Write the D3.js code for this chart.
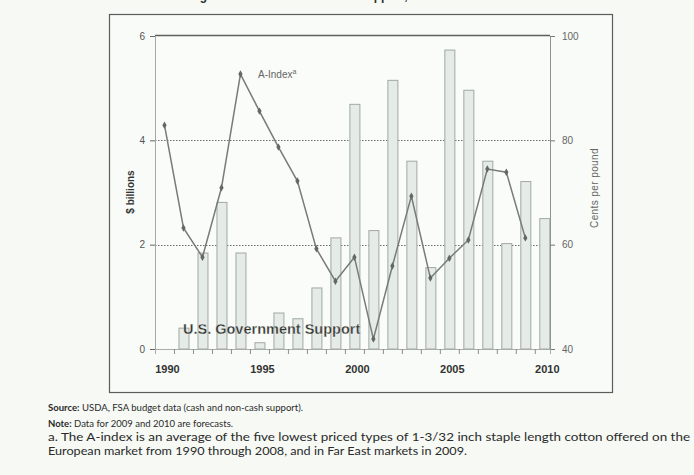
<!DOCTYPE html>
<html>
<head>
<meta charset="utf-8">
<script src="https://cdn.jsdelivr.net/npm/d3@7"></script>
<style>
  html, body { margin: 0; padding: 0; background: #f6f9f4; }
  svg { display: block; }
</style>
</head>
<body>
<div id="chart"></div>
<script>
// Cotton program outlays ($ billions) and the A-Index price (cents per pound)
const supportYears = [1991, 1992, 1993, 1994, 1995, 1996, 1997, 1998, 1999, 2000,
                      2001, 2002, 2003, 2004, 2005, 2006, 2007, 2008, 2009, 2010];
const supportValues = [0.40, 1.84, 2.81, 1.84, 0.12, 0.69, 0.58, 1.17, 2.13, 4.69,
                       2.27, 5.15, 3.60, 1.56, 5.73, 4.96, 3.60, 2.02, 3.21, 2.50];
const indexYears = [1990, 1991, 1992, 1993, 1994, 1995, 1996, 1997, 1998, 1999,
                    2000, 2001, 2002, 2003, 2004, 2005, 2006, 2007, 2008, 2009];
const indexValues = [82.9, 63.2, 57.6, 70.9, 92.7, 85.6, 78.7, 72.2, 59.2, 53.0,
                     57.6, 41.9, 55.9, 69.3, 53.6, 57.4, 60.9, 74.5, 73.9, 61.3];
const leftTicks = [0, 2, 4, 6];
const rightTicks = [40, 60, 80, 100];
const yearLabels = [1990, 1995, 2000, 2005, 2010];
const footnotes = [
  { bold: "Source:", text: " USDA, FSA budget data (cash and non-cash support)." },
  { bold: "Note:", text: " Data for 2009 and 2010 are forecasts." },
  { bold: "", text: "a. The A-index is an average of the five lowest priced types of 1-3/32 inch staple length cotton offered on the" },
  { bold: "", text: "European market from 1990 through 2008, and in Far East markets in 2009." }
];

const W = 694, H = 475;
const plot = { left: 155, right: 550, top: 36, bottom: 349 };

const svg = d3.select("#chart").append("svg")
  .attr("width", W).attr("height", H);

svg.append("rect").attr("width", W).attr("height", H).attr("fill", "#f6f9f4");

// Title, running off the top of the page
svg.append("text")
  .attr("x", 189).attr("y", 0)
  .attr("font-family", "Liberation Sans, Arial, sans-serif")
  .attr("font-weight", "bold").attr("font-size", 12).attr("fill", "#333")
  .text("Figure 3. Cotton Government Support, 1990-2010");

// Outer frame
svg.append("rect")
  .attr("x", 109.5).attr("y", 14.5).attr("width", 503).attr("height", 378)
  .attr("fill", "#f8fbf7").attr("stroke", "#5a5d5a").attr("stroke-width", 1.2);

const x = d3.scaleLinear().domain([1989.5, 2010.3]).range([plot.left, plot.right]);
const yL = d3.scaleLinear().domain([0, 6]).range([plot.bottom, plot.top]);
const yR = d3.scaleLinear().domain([40, 100]).range([plot.bottom, plot.top]);

// Plot background
svg.append("rect")
  .attr("x", plot.left).attr("y", plot.top)
  .attr("width", plot.right - plot.left).attr("height", plot.bottom - plot.top)
  .attr("fill", "#f9fcf8");

// Dotted gridlines
svg.append("g").selectAll("line").data([2, 4]).join("line")
  .attr("x1", plot.left).attr("x2", plot.right)
  .attr("y1", d => Math.round(yL(d)) + 0.5).attr("y2", d => Math.round(yL(d)) + 0.5)
  .attr("stroke", "#6a6d6a").attr("stroke-width", 1)
  .attr("stroke-dasharray", "1.5,1.5");

// Top border
svg.append("line")
  .attr("x1", plot.left).attr("x2", plot.right)
  .attr("y1", yL(6) - 0.5).attr("y2", yL(6) - 0.5)
  .attr("stroke", "#5c605c").attr("stroke-width", 1.4);

// Bars
const barW = 10;
svg.append("g").selectAll("rect")
  .data(supportYears.map((yr, i) => ({ yr, v: supportValues[i] })))
  .join("rect")
  .attr("x", d => x(d.yr) - barW / 2 + 0.5)
  .attr("y", d => yL(d.v))
  .attr("width", barW)
  .attr("height", d => yL(0) - yL(d.v))
  .attr("fill", "#e5ebe6")
  .attr("stroke", "#a2a8a3").attr("stroke-width", 1);

// Axes
const leftAxis = d3.axisLeft(yL).tickValues(leftTicks).tickSize(5).tickPadding(5).tickFormat(d3.format("d"));
const gL = svg.append("g").attr("transform", `translate(${plot.left},0)`).call(leftAxis);
gL.select(".domain").attr("stroke", "#a3a8a3");
gL.selectAll(".tick line").attr("stroke", "#666");
gL.selectAll(".tick text").attr("fill", "#555").attr("font-size", 10)
  .attr("font-family", "Liberation Sans, Arial, sans-serif");

const rightAxis = d3.axisRight(yR).tickValues(rightTicks).tickSize(5).tickPadding(7).tickFormat(d3.format("d"));
const gR = svg.append("g").attr("transform", `translate(${plot.right},0)`).call(rightAxis);
gR.select(".domain").attr("stroke", "#8f948f");
gR.selectAll(".tick line").attr("stroke", "#777");
gR.selectAll(".tick text").attr("fill", "#666").attr("font-size", 10)
  .attr("font-family", "Liberation Sans, Arial, sans-serif");

const bottomAxis = d3.axisBottom(x)
  .tickValues(d3.range(1990.5, 2010, 1)).tickSize(5).tickFormat("");
const gB = svg.append("g").attr("transform", `translate(0,${plot.bottom})`).call(bottomAxis);
gB.select(".domain").attr("stroke", "#a8ada8");
gB.selectAll(".tick line").attr("stroke", "#8a8f8a");

svg.append("g").selectAll("text").data(yearLabels).join("text")
  .attr("x", d => x(d) + 3).attr("y", 373)
  .attr("text-anchor", "middle")
  .attr("font-family", "Liberation Sans, Arial, sans-serif")
  .attr("font-weight", "bold").attr("font-size", 11).attr("fill", "#333")
  .text(d => d);

// Axis titles
svg.append("text")
  .attr("transform", "translate(134,192) rotate(-90)")
  .attr("text-anchor", "middle")
  .attr("font-family", "Liberation Sans, Arial, sans-serif")
  .attr("font-weight", "bold").attr("font-size", 10).attr("fill", "#333")
  .text("$ billions");

svg.append("text")
  .attr("transform", "translate(598,188) rotate(-90)")
  .attr("text-anchor", "middle")
  .attr("font-family", "Liberation Sans, Arial, sans-serif")
  .attr("font-size", 10).attr("fill", "#666").attr("letter-spacing", 0.4)
  .text("Cents per pound");

// A-Index line
const pts = indexYears.map((yr, i) => ({ yr, v: indexValues[i] }));
svg.append("path").datum(pts)
  .attr("d", d3.line().x(d => x(d.yr)).y(d => yR(d.v)))
  .attr("fill", "none").attr("stroke", "#777c77").attr("stroke-width", 1.5);

svg.append("g").selectAll("path").data(pts).join("path")
  .attr("transform", d => `translate(${x(d.yr)},${yR(d.v)})`)
  .attr("d", d3.symbol(d3.symbolDiamond, 16))
  .attr("fill", "#636863");

// Series labels
const aLabel = svg.append("text")
  .attr("x", 258).attr("y", 78)
  .attr("font-family", "Liberation Sans, Arial, sans-serif")
  .attr("font-size", 10).attr("fill", "#666");
aLabel.append("tspan").text("A-Index");
aLabel.append("tspan").attr("dy", -4).attr("font-size", 7).text("a");

svg.append("text")
  .attr("x", 183).attr("y", 334)
  .attr("font-family", "Liberation Sans, Arial, sans-serif")
  .attr("font-weight", "bold").attr("font-size", 14.5).attr("fill", "#2e312e")
  .attr("stroke", "#f6f9f4").attr("stroke-width", 0.3)
  .text("U.S. Government Support");

// Footnotes
const fnBase = [411, 427, 441, 455];
const fnEnd = [303, 233, 690, 467];
const fnSize = [10, 10, 10.8, 10.8];
footnotes.forEach((f, i) => {
  const t = svg.append("text")
    .attr("x", 48).attr("y", fnBase[i])
    .attr("font-family", "Lato, 'Open Sans', sans-serif")
    .attr("font-size", fnSize[i]).attr("fill", "#2a2a2a")
    .attr("textLength", fnEnd[i] - 48).attr("lengthAdjust", "spacingAndGlyphs");
  if (f.bold) t.append("tspan").attr("font-weight", "bold").text(f.bold);
  t.append("tspan").text(f.text);
});
</script>
</body>
</html>
